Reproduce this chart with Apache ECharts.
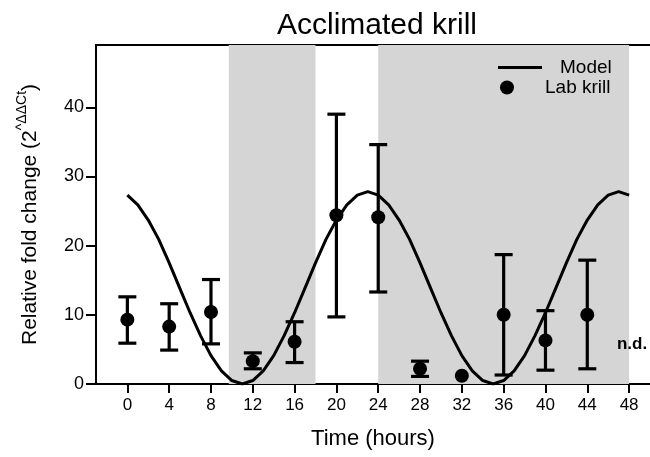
<!DOCTYPE html>
<html>
<head>
<meta charset="utf-8">
<script src="https://cdn.jsdelivr.net/npm/echarts@6/dist/echarts.min.js"></script>
<style>
html,body{margin:0;padding:0;background:#fff;}
#chart{width:650px;height:457px;}
</style>
</head>
<body>
<div id="chart"></div>
<script>
// ---- data ----
const sampleHours = [0, 4, 8, 12, 16, 20, 24, 28, 32, 36, 40, 44];
const labMean  = [9.3, 8.3, 10.4, 3.3, 6.1, 24.4, 24.1, 2.2, 1.2, 10.0, 6.3, 10.0];
const labLower = [5.9, 4.9, 5.8, 2.2, 3.1, 9.7, 13.3, 1.1, 1.2, 1.3, 2.0, 2.2];
const labUpper = [12.6, 11.6, 15.1, 4.5, 9.0, 39.0, 34.6, 3.3, 1.2, 18.7, 10.6, 17.9];

const modelHours = [0,1,2,3,4,5,6,7,8,9,10,11,12,13,14,15,16,17,18,19,20,21,22,23,24,
                    25,26,27,28,29,30,31,32,33,34,35,36,37,38,39,40,41,42,43,44,45,46,47,48];
const modelValues = [27.3,25.9,23.7,20.9,17.5,13.9,10.3,7.0,4.1,1.9,0.5,0.0,0.5,1.9,4.1,7.0,10.3,13.9,17.5,20.9,23.7,25.9,27.3,27.8,27.3,
                     25.9,23.7,20.9,17.5,13.9,10.3,7.0,4.1,1.9,0.5,0.0,0.5,1.9,4.1,7.0,10.3,13.9,17.5,20.9,23.7,25.9,27.3,27.8,27.3];

const darkPeriods = [[9.7, 18], [24, 48]];
const xTicks = [0,4,8,12,16,20,24,28,32,36,40,44,48];
const yTicks = [0,10,20,30,40];
const ndHour = 48;

// ---- build chart ----
const FONT = 'Liberation Sans, Arial, Helvetica, sans-serif';
const chart = echarts.init(document.getElementById('chart'), null, {renderer: 'canvas'});

const modelData = modelHours.map((h, i) => [h, modelValues[i]]);
const labData = sampleHours.map((h, i) => [h, labMean[i]]);
const errData = sampleHours.map((h, i) => [h, labLower[i], labUpper[i]]);

const option = {
  animation: false,
  backgroundColor: '#fff',
  title: {
    text: 'Acclimated krill',
    left: 372, top: 6,
    textAlign: 'center',
    textStyle: {fontFamily: FONT, fontSize: 30, fontWeight: 'normal', color: '#000'}
  },
  legend: [
    {
      data: [{name: 'Model', icon: 'rect'}],
      left: 493, top: 53,
      itemWidth: 44, itemHeight: 3,
      textStyle: {fontFamily: FONT, fontSize: 19, color: '#000', padding: [0, 0, 0, 13]}
    },
    {
      data: [{name: 'Lab krill', icon: 'circle'}],
      left: 495, top: 73,
      itemWidth: 14, itemHeight: 14,
      textStyle: {fontFamily: FONT, fontSize: 19, color: '#000', padding: [0, 0, 0, 26]}
    }
  ],
  grid: {left: 96, right: 0, top: 45, bottom: 73, containLabel: false},
  xAxis: [
    {
      type: 'value', min: -3, max: 50, interval: 4,
      name: 'Time (hours)', nameLocation: 'middle', nameGap: 44,
      nameTextStyle: {fontFamily: FONT, fontSize: 22, color: '#000'},
      axisLine: {show: true, onZero: false, lineStyle: {color: '#000', width: 2}},
      axisTick: {show: true, length: 9, lineStyle: {color: '#000', width: 2},
                 customValues: xTicks},
      axisLabel: {fontFamily: FONT, fontSize: 17, color: '#000', margin: 13,
                  customValues: xTicks},
      splitLine: {show: false}
    },
    {
      type: 'value', min: -3, max: 50, position: 'top',
      axisLine: {show: true, onZero: false, lineStyle: {color: '#000', width: 2}},
      axisTick: {show: false}, axisLabel: {show: false}, splitLine: {show: false}
    }
  ],
  yAxis: {
    type: 'value', min: 0, max: 49, interval: 10,
    name: '{m|Relative fold change (2}{s|^ΔΔCt}{m|)}',
    nameLocation: 'middle', nameGap: 55, nameRotate: 90,
    nameTextStyle: {
      color: '#000',
      rich: {
        m: {fontFamily: FONT, fontSize: 21, color: '#000', lineHeight: 26, verticalAlign: 'bottom'},
        s: {fontFamily: FONT, fontSize: 14, color: '#000', lineHeight: 26, verticalAlign: 'top'}
      }
    },
    axisLine: {show: true, onZero: false, lineStyle: {color: '#000', width: 2}},
    axisTick: {show: true, length: 10, lineStyle: {color: '#000', width: 2},
               customValues: yTicks},
    axisLabel: {fontFamily: FONT, fontSize: 18, color: '#000', margin: 12,
                customValues: yTicks},
    splitLine: {show: false}
  },
  series: [
    {
      name: 'Model', type: 'line', data: modelData,
      symbol: 'none', smooth: false, z: 3,
      lineStyle: {color: '#000', width: 3},
      itemStyle: {color: '#000'},
      markArea: {
        silent: true,
        itemStyle: {color: '#d5d5d5', opacity: 1},
        data: darkPeriods.map(p => [{xAxis: p[0]}, {xAxis: p[1]}])
      }
    },
    {
      name: 'Lab krill errors', type: 'custom', data: errData, z: 4,
      renderItem: function (params, api) {
        const x = api.value(0), lo = api.value(1), hi = api.value(2);
        if (hi - lo < 0.01) return null;
        const pHi = api.coord([x, hi]);
        const pLo = api.coord([x, lo]);
        const w = 9;
        const st = {stroke: '#000', lineWidth: 3.2};
        return {
          type: 'group',
          children: [
            {type: 'line', shape: {x1: pHi[0], y1: pHi[1], x2: pLo[0], y2: pLo[1]}, style: st},
            {type: 'line', shape: {x1: pHi[0] - w, y1: pHi[1], x2: pHi[0] + w, y2: pHi[1]}, style: st},
            {type: 'line', shape: {x1: pLo[0] - w, y1: pLo[1], x2: pLo[0] + w, y2: pLo[1]}, style: st}
          ]
        };
      }
    },
    {
      name: 'Lab krill', type: 'scatter', data: labData, z: 5,
      symbol: 'circle', symbolSize: 14,
      itemStyle: {color: '#000', opacity: 1}
    },
    {
      name: 'n.d.', type: 'scatter', data: [[ndHour, 5.8]], z: 5,
      symbolSize: 0,
      itemStyle: {color: '#000', opacity: 1},
      label: {show: true, formatter: 'n.d.', position: 'inside', offset: [3, 0],
              fontFamily: FONT, fontSize: 17, fontWeight: 'bold', color: '#000', opacity: 1}
    }
  ]
};
chart.setOption(option);
</script>
</body>
</html>
